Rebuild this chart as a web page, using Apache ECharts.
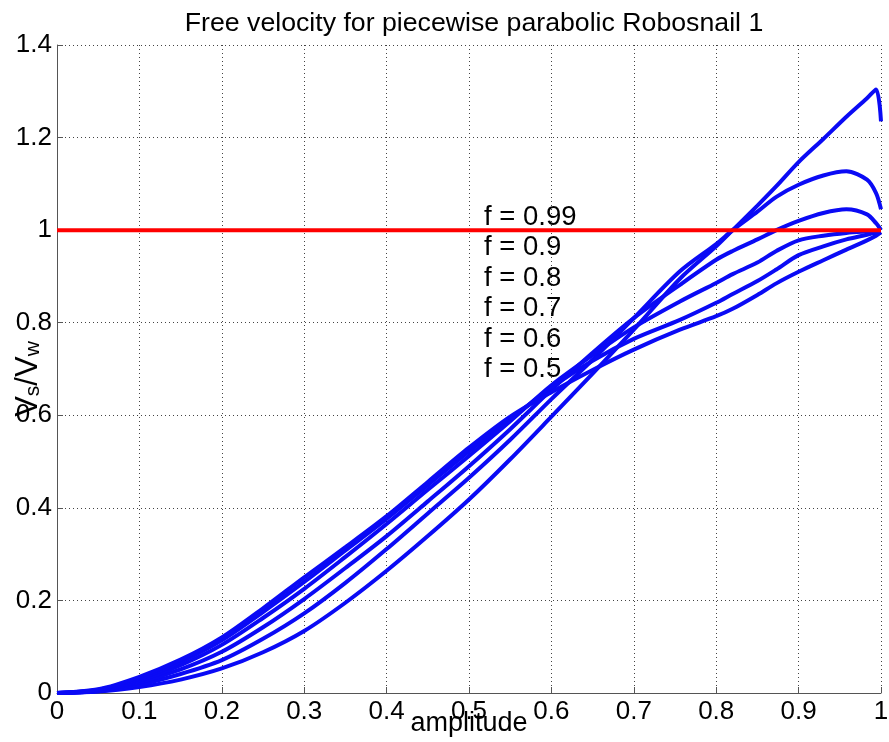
<!DOCTYPE html>
<html>
<head>
<meta charset="utf-8">
<script src="https://cdn.jsdelivr.net/npm/echarts@6/dist/echarts.min.js"></script>
<style>
  html, body { margin: 0; padding: 0; background: #ffffff; }
  #chart { width: 889px; height: 742px; }
</style>
</head>
<body>
<div id="chart"></div>
<script>
// Amplitude samples shared by every curve
const amplitude = [0, 0.05, 0.1, 0.15, 0.2, 0.25, 0.3, 0.35, 0.4, 0.45, 0.5, 0.55, 0.6, 0.65, 0.7,
                   0.756, 0.8, 0.82, 0.85, 0.873, 0.9, 0.93, 0.958, 0.983, 0.994, 1.0];

// Free velocity ratio Vs/Vw for each value of f
const vF099 = [0, 0.003, 0.013, 0.029, 0.053, 0.088, 0.134, 0.195, 0.264, 0.339, 0.418, 0.505, 0.597, 0.690, 0.785,
               0.895, 0.965, 1.000, 1.053, 1.095, 1.147, 1.197, 1.245, 1.285, 1.304, 1.235];
const vF090 = [0, 0.004, 0.018, 0.041, 0.071, 0.117, 0.172, 0.238, 0.311, 0.388, 0.465, 0.547, 0.635, 0.720, 0.810,
               0.911, 0.970, 1.000, 1.040, 1.072, 1.098, 1.118, 1.127, 1.109, 1.080, 1.045];
const vF080 = [0, 0.005, 0.023, 0.051, 0.089, 0.142, 0.203, 0.270, 0.339, 0.414, 0.490, 0.570, 0.655, 0.735, 0.810,
               0.882, 0.936, 0.955, 0.980, 1.000, 1.020, 1.037, 1.045, 1.034, 1.015, 1.000];
const vF070 = [0, 0.006, 0.027, 0.060, 0.104, 0.162, 0.225, 0.294, 0.365, 0.439, 0.512, 0.587, 0.665, 0.730, 0.790,
               0.846, 0.886, 0.905, 0.930, 0.955, 0.978, 0.988, 0.994, 0.997, 0.998, 0.998];
const vF060 = [0, 0.007, 0.031, 0.067, 0.114, 0.175, 0.240, 0.308, 0.376, 0.449, 0.522, 0.592, 0.660, 0.718, 0.765,
               0.806, 0.843, 0.862, 0.890, 0.915, 0.946, 0.965, 0.980, 0.990, 0.995, 0.997];
const vF050 = [0, 0.008, 0.035, 0.072, 0.120, 0.183, 0.250, 0.315, 0.382, 0.456, 0.530, 0.597, 0.650, 0.698, 0.742,
               0.785, 0.814, 0.830, 0.860, 0.885, 0.910, 0.935, 0.958, 0.978, 0.988, 0.995];

const curveNames = ['f = 0.99', 'f = 0.9', 'f = 0.8', 'f = 0.7', 'f = 0.6', 'f = 0.5'];
const curveValues = [vF099, vF090, vF080, vF070, vF060, vF050];

// Reference level Vs/Vw = 1
const unityX = [0, 1];
const unityY = [1, 1];

const FONT = "'Liberation Sans', Arial, Helvetica, sans-serif";
const fmt = v => String(Math.round(v * 10) / 10);

const curveSeries = curveNames.map((name, i) => ({
  name: name,
  type: 'line',
  data: amplitude.map((a, k) => [a, curveValues[i][k]]),
  showSymbol: false,
  smooth: 0.3,
  clip: false,
  lineStyle: { color: '#0a0af5', width: 4 },
  itemStyle: { color: '#0a0af5' },
  z: 2
}));

const chart = echarts.init(document.getElementById('chart'), null, { renderer: 'canvas' });
chart.setOption({
  animation: false,
  backgroundColor: '#ffffff',
  textStyle: { fontFamily: FONT },
  title: {
    text: 'Free velocity for piecewise parabolic Robosnail 1',
    left: 469,
    top: 5,
    textAlign: 'center',
    textStyle: { fontFamily: FONT, fontSize: 26.7, fontWeight: 'normal', color: '#000' }
  },
  legend: {
    data: curveNames,
    orient: 'vertical',
    left: 474,
    top: 197,
    padding: 5,
    itemWidth: 0,
    itemHeight: 0,
    itemGap: 0,
    icon: 'rect',
    selectedMode: false,
    textStyle: { fontFamily: FONT, fontSize: 27.5, color: '#000', lineHeight: 30.5 }
  },
  grid: { left: 57, right: 8, top: 45, bottom: 49, containLabel: false, outerBoundsMode: 'none' },
  xAxis: {
    type: 'value',
    min: 0,
    max: 1,
    interval: 0.1,
    name: 'amplitude',
    nameLocation: 'middle',
    nameGap: 17,
    nameMoveOverlap: false,
    nameTextStyle: { fontFamily: FONT, fontSize: 27, color: '#000' },
    axisLine: { show: true, onZero: false, lineStyle: { color: '#555', width: 1 } },
    axisTick: { show: true, inside: true, length: 6, lineStyle: { color: '#555' } },
    axisLabel: { formatter: fmt, fontFamily: FONT, fontSize: 26, color: '#000', margin: 6 },
    splitLine: { show: true, lineStyle: { color: '#444', width: 1, type: [1, 3] } }
  },
  yAxis: {
    type: 'value',
    min: 0,
    max: 1.4,
    interval: 0.2,
    name: '{v|V}{s|s}{v|/V}{s|w}',
    nameLocation: 'middle',
    nameRotate: 90,
    nameGap: 13,
    nameMoveOverlap: false,
    nameTextStyle: {
      fontFamily: FONT,
      color: '#000',
      padding: [0, 20, 0, 0],
      rich: {
        v: { fontFamily: FONT, fontSize: 31, lineHeight: 32, color: '#000' },
        s: { fontFamily: FONT, fontSize: 21, lineHeight: 6, verticalAlign: 'bottom', color: '#000' }
      }
    },
    axisLine: { show: true, onZero: false, lineStyle: { color: '#555', width: 1 } },
    axisTick: { show: true, inside: true, length: 6, lineStyle: { color: '#555' } },
    axisLabel: { formatter: fmt, fontFamily: FONT, fontSize: 26, color: '#000', margin: 5 },
    splitLine: { show: true, lineStyle: { color: '#444', width: 1, type: [1, 3] } }
  },
  series: curveSeries.concat([{
    name: 'unity',
    type: 'line',
    data: unityX.map((x, k) => [x, unityY[k]]),
    showSymbol: false,
    clip: false,
    lineStyle: { color: '#ff0000', width: 4 },
    itemStyle: { color: '#ff0000' },
    z: 3
  }])
});
</script>
</body>
</html>
